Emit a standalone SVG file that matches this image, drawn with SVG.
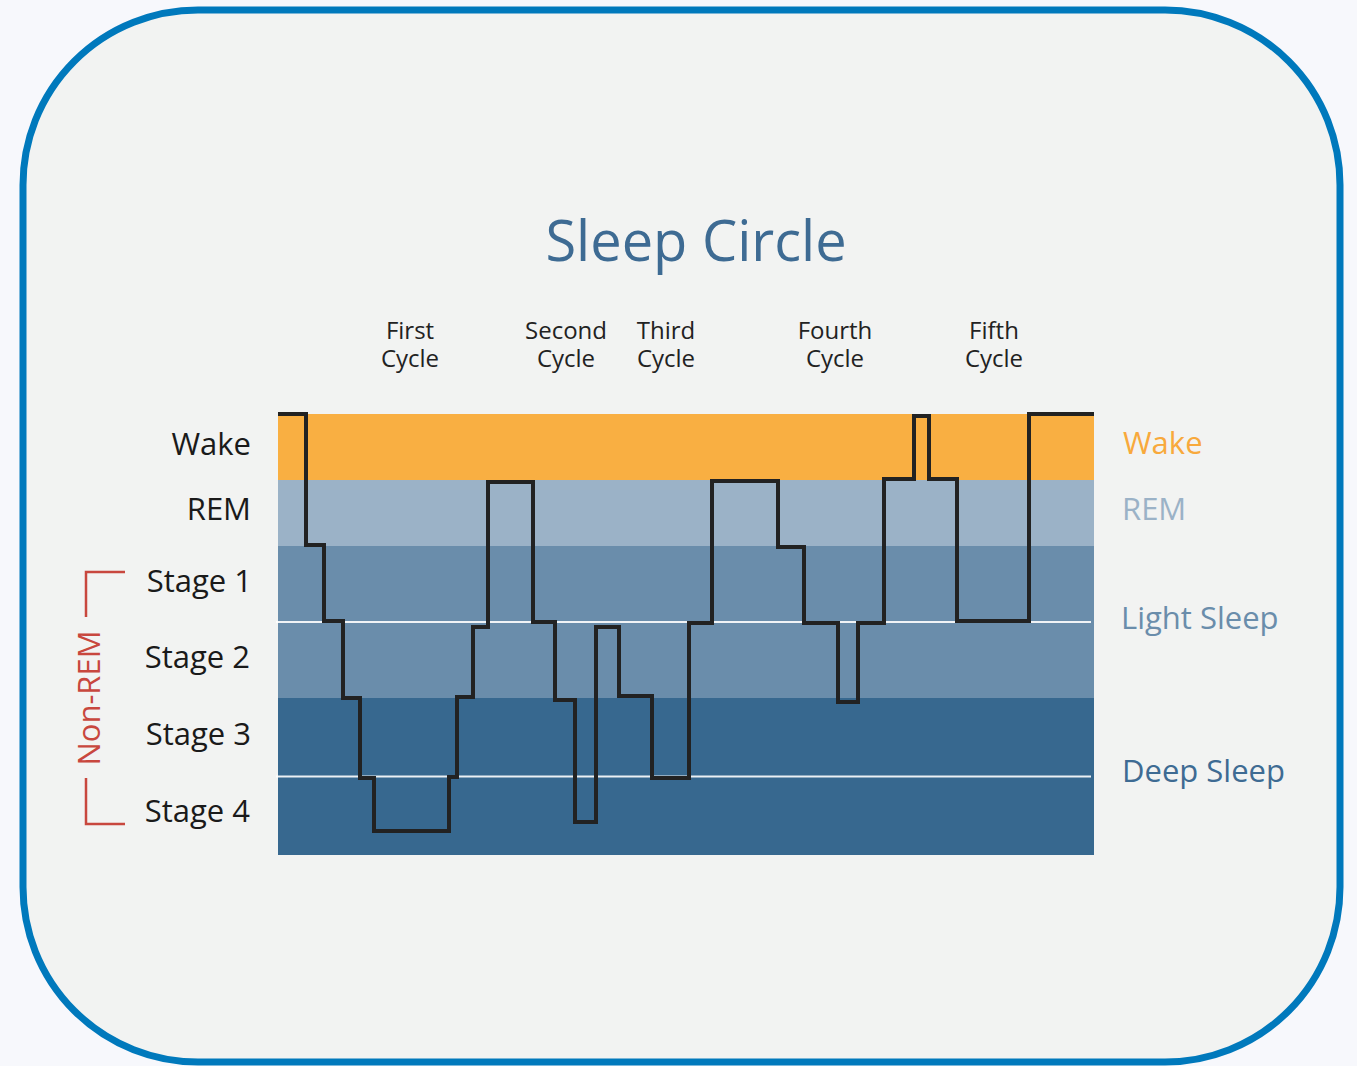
<svg xmlns="http://www.w3.org/2000/svg" width="1357" height="1066" viewBox="0 0 1357 1066">
<style>
text{font-family:"Open Sans","Noto Sans","DejaVu Sans",sans-serif}
.lbl{font-size:31px;fill:#1a1a1a;text-anchor:end}
.cyc{font-size:24px;fill:#222;text-anchor:middle}
.rl{font-size:31px}
.grid{stroke:#ffffff;stroke-width:2;opacity:0.9}
.brk{fill:none;stroke:#C8473E;stroke-width:2.5}
</style>
<rect x="0" y="0" width="1357" height="1066" fill="#F7F8FC"/>
<rect id="frame" x="23" y="10" width="1317" height="1052" rx="175" ry="175" fill="#F2F3F2" stroke="#0079BC" stroke-width="7"/>
<text id="title" x="696" y="261" font-size="56" fill="#3E6B93" text-anchor="middle">Sleep Circle</text>
<g id="cycles">
<text class="cyc" x="410" y="339">First</text><text class="cyc" x="410" y="367">Cycle</text>
<text class="cyc" x="566" y="339">Second</text><text class="cyc" x="566" y="367">Cycle</text>
<text class="cyc" x="666" y="339">Third</text><text class="cyc" x="666" y="367">Cycle</text>
<text class="cyc" x="835" y="339">Fourth</text><text class="cyc" x="835" y="367">Cycle</text>
<text class="cyc" x="994" y="339">Fifth</text><text class="cyc" x="994" y="367">Cycle</text>
</g>
<g id="bands">
<rect x="278" y="414" width="816" height="66" fill="#F9AF42"/>
<rect x="278" y="480" width="816" height="66" fill="#9BB2C7"/>
<rect x="278" y="546" width="816" height="152" fill="#6A8DAB"/>
<rect x="278" y="698" width="816" height="157" fill="#37688F"/>
<line class="grid" x1="276" y1="622" x2="1091" y2="622"/>
<line class="grid" x1="276" y1="776.5" x2="1091" y2="776.5"/>
</g>
<g id="left-labels">
<text class="lbl" x="251" y="455">Wake</text>
<text class="lbl" x="251" y="520">REM</text>
<text class="lbl" x="252" y="592">Stage 1</text>
<text class="lbl" x="250" y="668">Stage 2</text>
<text class="lbl" x="251" y="745">Stage 3</text>
<text class="lbl" x="250" y="822">Stage 4</text>
</g>
<g id="non-rem">
<path class="brk" d="M125,572 H86 V617"/>
<path class="brk" d="M86,778 V824 H125"/>
<text transform="translate(100,698) rotate(-90)" font-size="31" fill="#C8473E" text-anchor="middle">Non-REM</text>
</g>
<g id="right-labels">
<text class="rl" x="1123" y="454" fill="#F8A93C">Wake</text>
<text class="rl" x="1122" y="520" fill="#9BB2C7">REM</text>
<text class="rl" x="1121" y="629" fill="#6A8DAB">Light Sleep</text>
<text class="rl" x="1122" y="782" fill="#3E6B93">Deep Sleep</text>
</g>
<g id="connectors">
<path d="M278,414 H306 V545 H324 V621 H343 V698 H360 V778 H374 V831 H449 V777 H457 V697 H473 V627 H488 V482 H533 V622 H555 V700 H575 V822 H596 V627 H619 V696 H652 V778 H689 V623 H712 V481 H778 V547 H804 V623 H838 V702 H858 V623 H884 V479 H914 V416 H929 V479 H957 V621 H1029 V414 H1094" fill="none" stroke="#222" stroke-width="4" stroke-linejoin="miter"/>
</g>
</svg>
